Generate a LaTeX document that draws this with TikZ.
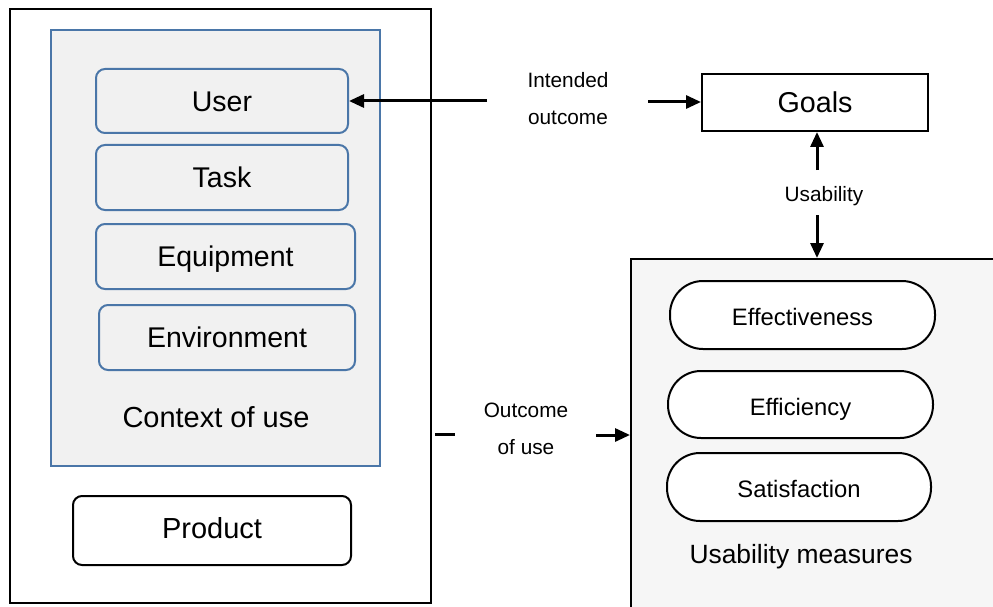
\documentclass[tikz,border=0pt]{standalone}
\usepackage{fontspec}
\setmainfont{Liberation Sans}
\usetikzlibrary{arrows.meta}
\definecolor{bluel}{HTML}{4A76A8}
\definecolor{fillg}{HTML}{F1F1F1}
\definecolor{fillm}{HTML}{F6F6F6}
\tikzset{
  capc/.style={text height=#1, text depth=0pt},
  bluebox/.style={draw=bluel, line width=2pt, fill=fillg, rounded corners=9pt, inner sep=0pt, capc=20.4pt, font=\fontsize{28.5}{30}\selectfont},
  blackrbox/.style={draw=black, line width=2pt, fill=white, rounded corners=9pt, inner sep=0pt, capc=16.8pt, font=\fontsize{29}{30}\selectfont},
  pill/.style={draw=black, line width=2pt, fill=white, rounded corners=33pt, inner sep=0pt, capc=21pt, font=\fontsize{23.8}{26}\selectfont},
  lbl/.style={font=\fontsize{20.8}{37}\selectfont, align=center, inner sep=0pt},
  bigtxt/.style={font=\fontsize{29}{30}\selectfont, inner sep=0pt, capc=20.8pt},
  arr/.style={line width=3pt, -{Triangle[length=15pt,width=13pt]}},
  plainline/.style={line width=3pt}
}
\begin{document}
\begin{tikzpicture}[x=1pt,y=-1pt]
\useasboundingbox (0,0) rectangle (993,607);
\clip (0,0) rectangle (993,607);
% outer box
\node[draw=black, line width=2pt, fill=white, minimum width=421pt, minimum height=594pt, inner sep=0pt] (outer) at (220.5,306) {};
% context box
\node[draw=bluel, line width=2pt, fill=fillg, minimum width=329pt, minimum height=436pt, inner sep=0pt] (ctx) at (215.5,248) {};
\node[bluebox, minimum width=252pt, minimum height=64pt] (user) at (222,101) {User};
\node[bluebox, minimum width=252pt, minimum height=65pt] (task) at (222,177.5) {Task};
\node[bluebox, minimum width=259pt, minimum height=65pt] (equip) at (225.5,256.5) {Equipment};
\node[bluebox, minimum width=256pt, minimum height=65pt] (env) at (227,337.5) {Environment};
\node[bigtxt] (ctxlbl) at (216,417) {Context of use};
\node[blackrbox, minimum width=278pt, minimum height=69pt] (product) at (212,530.5) {Product};
% goals
\node[draw=black, line width=2pt, fill=white, minimum width=226pt, minimum height=57pt, inner sep=0pt, capc=20.5pt, font=\fontsize{28.7}{30}\selectfont] (goals) at (815,102.5) {Goals};
% usability measures box (extends past the edge)
\node[draw=black, line width=2pt, fill=fillm, minimum width=380pt, minimum height=370pt, inner sep=0pt, anchor=north west] (meas) at (630,258) {};
\node[pill, minimum width=265pt, minimum height=68pt] (eff) at (802.5,315) {Effectiveness};
\node[pill, minimum width=265pt, minimum height=67pt] (effi) at (800.5,404.5) {Efficiency};
\node[pill, minimum width=264pt, minimum height=68pt] (sat) at (799,487) {Satisfaction};
\node[font=\fontsize{26.4}{30}\selectfont, inner sep=0pt, capc=18.9pt] (measlbl) at (801,554) {Usability measures};
% labels
\node[lbl] (intended) at (568,99) {Intended\\outcome};
\node[lbl] (outcome) at (526,429) {Outcome\\of use};
\node[lbl, capc=14.9pt] (usab) at (824,194) {Usability};
% connectors
\coordinate (a1) at (487,101);
\coordinate (a2) at (648,102);
\coordinate (u1) at (817,170);
\coordinate (u2) at (817,215);
\coordinate (o1) at (435,434);
\coordinate (o2) at (455,434);
\coordinate (o3) at (596,435);
\draw[arr] (a1) -- (user.east |- a1);
\draw[arr] (a2) -- (goals.west |- a2);
\draw[arr] (u1) -- (goals.south -| u1);
\draw[arr] (u2) -- (meas.north -| u2);
\draw[plainline] (o1) -- (o2);
\draw[arr] (o3) -- (meas.west |- o3);
\end{tikzpicture}
\end{document}
